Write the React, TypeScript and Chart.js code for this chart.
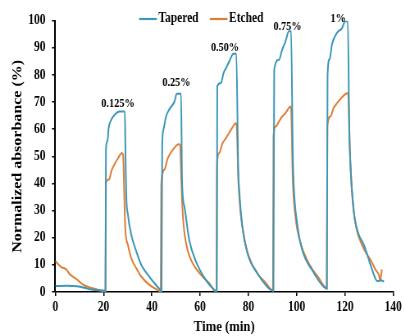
import React, { useEffect, useRef } from 'react';
import { Chart, registerables } from 'chart.js';

Chart.register(...registerables);

// ---------- data ----------
const seriesNames = ['Tapered', 'Etched'];
const seriesColors = ['#3C97B8', '#E07E35'];

const tapTime = [
  0, 5, 9, 12, 15, 18, 20.8,
  21.0, 21.6, 22.1, 23.2, 24.6, 26.7, 28.8,
  29.1, 29.4, 30.1, 31.5, 33.6, 35.6, 38.4, 41.1, 43.2, 44.0,
  44.3, 44.8, 45.9, 47.3, 49.4, 50.3, 52.1,
  52.5, 53.5, 55.5, 58.3, 62.4, 65.2, 66.9,
  67.1, 68.6, 69.7, 70.7, 72.1, 73.8, 75.0,
  75.8, 76.2, 77.5, 79.6, 83.7, 87.8, 89.2, 90.4,
  90.7, 92.7, 94.0, 95.4, 96.8, 97.7,
  98.4, 98.8, 100.2, 102.3, 106.4, 111.2, 112.5,
  112.8, 113.7, 114.6, 116.7, 118.8, 120.1, 121.2,
  121.8, 122.2, 123.6, 125.4, 127.8, 130.6, 132.6, 133.4, 135.0, 136.2,
];
const tapValue = [
  2.2, 2.3, 2.1, 1.6, 0.9, 0.6, 0.5,
  53, 55.5, 60.4, 63.5, 65.3, 66.5, 66.5,
  50, 35.8, 28.4, 21, 14.9, 10, 6.3, 3.2, 1.1, 0.3,
  53.6, 59.8, 64.7, 67.4, 70.2, 73.1, 73.1,
  41.3, 31.5, 19.2, 11.2, 4.4, 1.4, 0.2,
  75.8, 77, 80.7, 82.5, 85, 87.8, 87.8,
  45, 37.6, 24.1, 14.3, 6.9, 1.9, 0.9, 0.6,
  81.9, 85.6, 89.3, 92.4, 96.1, 96.1,
  50, 38.9, 25.3, 15.5, 8.1, 1.9, 1.2,
  80, 86, 91.1, 95.5, 97.3, 99.8, 99.8,
  60, 48.7, 30.3, 22, 17.5, 10, 5, 4, 4.3, 3.8,
];

const etchTime = [
  0, 1, 2.5, 4.7, 6, 8.8, 11.5, 14.3, 17, 19.5, 20.8,
  21.0, 22.3, 23.2, 24.5, 26, 27.6, 28.1,
  28.6, 29.0, 30.1, 31.5, 33.6, 35.6, 39, 42.5, 43.7,
  43.9, 45.2, 46.6, 48.7, 51.1, 51.7,
  52.2, 52.8, 53.5, 54.8, 56.9, 61, 63.8, 65.8, 66.8,
  67.0, 67.9, 69.3, 70.7, 72, 73.4, 74.8, 75.1,
  75.9, 76.8, 78.2, 80.2, 83.7, 87.8, 89.2, 90.2,
  90.4, 91.3, 92.7, 94, 95.4, 97.5, 97.7,
  98.4, 99.5, 101.6, 105, 109.2, 112.5,
  112.7, 114, 115.3, 116.7, 118.8, 120.9, 121.3,
  122.2, 123.3, 124.9, 127, 129, 130.6, 132.7, 134.1, 134.6, 135.3,
];
const etchValue = [
  11.4, 10.4, 9.2, 8.2, 6.5, 4.8, 2.7, 1.7, 1.0, 0.4, 0.2,
  40.5, 41.5, 44.5, 47, 49.3, 51.2, 50.5,
  35, 23.5, 17.3, 12.4, 8.7, 5.7, 2.6, 0.7, 0.2,
  39.5, 45.1, 49.3, 52.4, 54.5, 54.2,
  41.3, 29, 21.8, 15.5, 10.6, 5.7, 3.2, 0.7, 0.3,
  46.8, 51.2, 54.8, 56.7, 58.6, 60.7, 62.2, 61.6,
  40.1, 29, 20.4, 13, 6.9, 2.7, 1, 0.5,
  57.3, 61, 62.9, 64.7, 66, 68.4, 67.8,
  41.3, 27.8, 18, 10.6, 5.1, 1.4,
  61, 64.7, 67.8, 69.6, 71.8, 73.3, 73.1,
  48.7, 32.7, 22.9, 17.5, 14, 11.9, 8.2, 6.2, 4.2, 8.3,
];

const xTickValues = [0, 20, 40, 60, 80, 100, 120, 140];
const yTickValues = [0, 10, 20, 30, 40, 50, 60, 70, 80, 90, 100];

const pctLabels = ['0.125%', '0.25%', '0.50%', '0.75%', '1%'];
const pctTime = [26, 50.2, 70.3, 96.2, 117.2];
const pctLevel = [69.4, 77.2, 90.1, 97.9, 100.7];

const xTitle = 'Time (min)';
const yTitle = 'Normalized absorbance (%)';

// ---------- layout ----------
const S = 0.82; // horizontal squeeze of the original picture
const VW = 493;
const H = 336;
const FONT = "'Liberation Serif', 'Times New Roman', serif";

const pctPlugin = {
  id: 'pctLabels',
  afterDatasetsDraw(chart: any) {
    const { ctx, scales } = chart;
    const x = scales.x;
    const y = scales.y;
    ctx.save();
    ctx.font = `bold 12.5px ${FONT}`;
    ctx.fillStyle = '#000';
    ctx.textAlign = 'center';
    ctx.textBaseline = 'middle';
    pctLabels.forEach((t, i) => {
      ctx.fillText(t, x.getPixelForValue(pctTime[i]), y.getPixelForValue(pctLevel[i]));
    });
    ctx.restore();
  },
};

// simple line legend drawn at the top, centred on the canvas
const legendPlugin = {
  id: 'lineLegend',
  afterDraw(chart: any) {
    const { ctx } = chart;
    const lineLen = 21.5;
    const gapText = 2;
    const gapItem = 13.7;
    const cy = 18.5;
    ctx.save();
    ctx.font = `bold 14px ${FONT}`;
    const items = chart.data.datasets.map((d: any) => ({
      label: d.label,
      color: d.borderColor,
      w: lineLen + gapText + ctx.measureText(d.label).width,
    }));
    const total = items.reduce((a: number, it: any) => a + it.w, 0) + gapItem * (items.length - 1);
    let x = chart.width / 2 - 1 - total / 2;
    items.forEach((it: any) => {
      ctx.strokeStyle = it.color;
      ctx.lineWidth = 2.2;
      ctx.beginPath();
      ctx.moveTo(x, cy + 0.5);
      ctx.lineTo(x + lineLen, cy + 0.5);
      ctx.stroke();
      ctx.fillStyle = '#000';
      ctx.textAlign = 'left';
      ctx.textBaseline = 'middle';
      ctx.fillText(it.label, x + lineLen + gapText, cy);
      x += it.w + gapItem;
    });
    ctx.restore();
  },
};

export default function App() {
  const ref = useRef<HTMLCanvasElement | null>(null);

  useEffect(() => {
    document.body.style.margin = '0';
    if (!ref.current) return;
    const toPts = (t: number[], v: number[]) => t.map((tt, i) => ({ x: tt, y: v[i] }));
    const tickFont = { family: FONT, size: 14, weight: 'bold' as const };
    const axisGrid = {
      display: true,
      drawOnChartArea: false,
      drawTicks: true,
      tickLength: 4,
      color: '#000',
      tickColor: '#000',
      lineWidth: 1.5,
    };
    const chart = new Chart(ref.current, {
      type: 'line',
      data: {
        datasets: [
          {
            label: seriesNames[0],
            data: toPts(tapTime, tapValue),
            borderColor: seriesColors[0],
            backgroundColor: seriesColors[0],
            borderWidth: 2,
            pointRadius: 0,
            cubicInterpolationMode: 'monotone',
          },
          {
            label: seriesNames[1],
            data: toPts(etchTime, etchValue),
            borderColor: seriesColors[1],
            backgroundColor: seriesColors[1],
            borderWidth: 2,
            pointRadius: 0,
            cubicInterpolationMode: 'monotone',
          },
        ],
      },
      options: {
        animation: false,
        responsive: false,
        devicePixelRatio: 1,
        layout: { padding: { left: 0, right: 11.5, top: 20.7, bottom: 0 } },
        plugins: {
          tooltip: { enabled: false },
          legend: { display: false },
        },
        scales: {
          x: {
            type: 'linear',
            min: 0,
            max: 140,
            afterBuildTicks: (axis: any) => {
              axis.ticks = xTickValues.map((v) => ({ value: v }));
            },
            afterFit: (s: any) => {
              s.height = 44;
            },
            ticks: { color: '#000', font: tickFont, padding: 3, maxRotation: 0, autoSkip: false },
            grid: axisGrid,
            border: { display: true, color: '#000', width: 1.5 },
            title: {
              display: true,
              text: xTitle,
              color: '#000',
              font: { family: FONT, size: 15.5, weight: 'bold' },
              padding: { top: 0, bottom: 0 },
            },
          },
          y: {
            type: 'linear',
            min: 0,
            max: 100,
            afterBuildTicks: (axis: any) => {
              axis.ticks = yTickValues.map((v) => ({ value: v }));
            },
            afterFit: (s: any) => {
              s.width = 67.4;
            },
            ticks: { color: '#000', font: tickFont, padding: 8, autoSkip: false },
            grid: axisGrid,
            border: { display: true, color: '#000', width: 2 },
            title: {
              display: true,
              text: yTitle,
              color: '#000',
              font: { family: FONT, size: 16, weight: 'bold' },
              padding: { top: 12.4, bottom: 0 },
            },
          },
        },
      },
      plugins: [pctPlugin, legendPlugin],
    } as any);
    return () => chart.destroy();
  }, []);

  return (
    <div style={{ width: 404, height: H, overflow: 'hidden', position: 'relative', background: '#fff' }}>
      <canvas
        ref={ref}
        width={VW}
        height={H}
        style={{ display: 'block', width: VW, height: H, transform: `scaleX(${S})`, transformOrigin: '0 0' }}
      />
    </div>
  );
}
